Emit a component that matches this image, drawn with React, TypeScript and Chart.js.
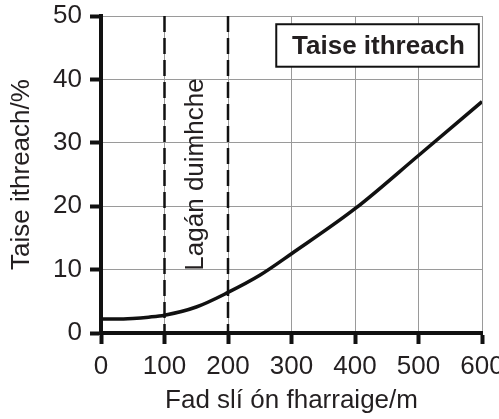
import React, { useEffect, useRef } from "react";
import { Chart, registerables } from "chart.js";

Chart.register(...registerables);

const distances = [0, 25, 50, 75, 100, 150, 200, 250, 300, 400, 500, 600];
const moisture = [2.2, 2.2, 2.3, 2.5, 2.8, 4.1, 6.4, 9.1, 12.5, 19.6, 28.0, 36.5];
const xTicks = [0, 100, 200, 300, 400, 500, 600];
const yTicks = [0, 10, 20, 30, 40, 50];
const dashedAt = [100, 200];
const zoneLabel = "Lagán duimhche";
const boxLabel = "Taise ithreach";
const xTitle = "Fad slí ón fharraige/m";
const yTitle = "Taise ithreach/%";

const FONT = "'Liberation Sans', Arial, Helvetica, sans-serif";
const TEXT = "#231f20";

const overlay = {
  id: "overlay",
  afterDatasetsDraw(chart: any) {
    const { ctx, chartArea, scales } = chart;
    const xs = scales.x;
    const ys = scales.y;
    ctx.save();
    ctx.strokeStyle = "#111";
    ctx.lineWidth = 2.5;
    ctx.setLineDash([16, 6]);
    for (const v of dashedAt) {
      const px = xs.getPixelForValue(v);
      ctx.beginPath();
      ctx.moveTo(px, chartArea.top);
      ctx.lineTo(px, chartArea.bottom);
      ctx.stroke();
    }
    ctx.setLineDash([]);
    const cx = xs.getPixelForValue(150);
    const cy = ys.getPixelForValue(25);
    ctx.translate(cx, cy);
    ctx.rotate(-Math.PI / 2);
    ctx.fillStyle = TEXT;
    ctx.font = `26px ${FONT}`;
    ctx.textAlign = "center";
    ctx.textBaseline = "middle";
    ctx.fillText(zoneLabel, 0, 0);
    ctx.setTransform(1, 0, 0, 1, 0, 0);
    const l = xs.getPixelForValue(276);
    const r = xs.getPixelForValue(595);
    const t = ys.getPixelForValue(48.7);
    const b = ys.getPixelForValue(42.0);
    ctx.fillStyle = "#fff";
    ctx.fillRect(l, t, r - l, b - t);
    ctx.strokeStyle = "#111";
    ctx.lineWidth = 2;
    ctx.strokeRect(l, t, r - l, b - t);
    ctx.fillStyle = TEXT;
    ctx.font = `bold 26px ${FONT}`;
    ctx.textAlign = "center";
    ctx.textBaseline = "middle";
    ctx.fillText(boxLabel, (l + r) / 2 + 1, (t + b) / 2 + 1);
    ctx.restore();
  },
};

export default function App() {
  const ref = useRef<HTMLCanvasElement>(null);
  useEffect(() => {
    if (!ref.current) return;
    const chart = new Chart(ref.current, {
      type: "line",
      data: {
        datasets: [
          {
            data: distances.map((d, i) => ({ x: d, y: moisture[i] })),
            borderColor: "#111",
            borderWidth: 3.5,
            pointRadius: 0,
            cubicInterpolationMode: "monotone",
            fill: false,
          },
        ],
      },
      options: {
        responsive: false,
        animation: false,
        layout: { padding: { top: 16, right: 17, left: 0, bottom: 0 } },
        plugins: { legend: { display: false }, tooltip: { enabled: false } },
        scales: {
          x: {
            type: "linear",
            min: 0,
            max: 600,
            afterBuildTicks: (s: any) => {
              s.ticks = xTicks.map((v) => ({ value: v }));
            },
            afterFit: (s: any) => {
              s.height = 86;
              s.paddingLeft = 0;
              s.paddingRight = 0;
            },
            grid: {
              color: "#9a9a9a",
              lineWidth: 1,
              tickLength: 11,
              tickColor: "#111",
              tickWidth: 4,
            },
            border: { color: "#111", width: 4 },
            ticks: {
              color: TEXT,
              font: { family: FONT, size: 26 },
              padding: 7,
              maxRotation: 0,
            },
            title: {
              display: true,
              text: xTitle,
              color: TEXT,
              font: { family: FONT, size: 26 },
              padding: { top: 0, bottom: 3 },
            },
          },
          y: {
            type: "linear",
            min: 0,
            max: 50,
            afterBuildTicks: (s: any) => {
              s.ticks = yTicks.map((v) => ({ value: v }));
            },
            afterFit: (s: any) => {
              s.width = 101;
              s.paddingTop = 0;
              s.paddingBottom = 0;
            },
            grid: {
              color: "#9a9a9a",
              lineWidth: 1,
              tickLength: 11,
              tickColor: "#111",
              tickWidth: 4,
            },
            border: { color: "#111", width: 4 },
            ticks: {
              color: TEXT,
              font: { family: FONT, size: 26 },
              padding: 8,
            },
            title: {
              display: true,
              text: yTitle,
              color: TEXT,
              font: { family: FONT, size: 26 },
              padding: { top: 6, bottom: 0 },
            },
          },
        },
      },
      plugins: [overlay],
    } as any);
    return () => chart.destroy();
  }, []);
  return (
    <canvas
      ref={ref}
      width={499}
      height={419}
      style={{ position: "absolute", left: 0, top: 0, display: "block", background: "#fff" }}
    />
  );
}
